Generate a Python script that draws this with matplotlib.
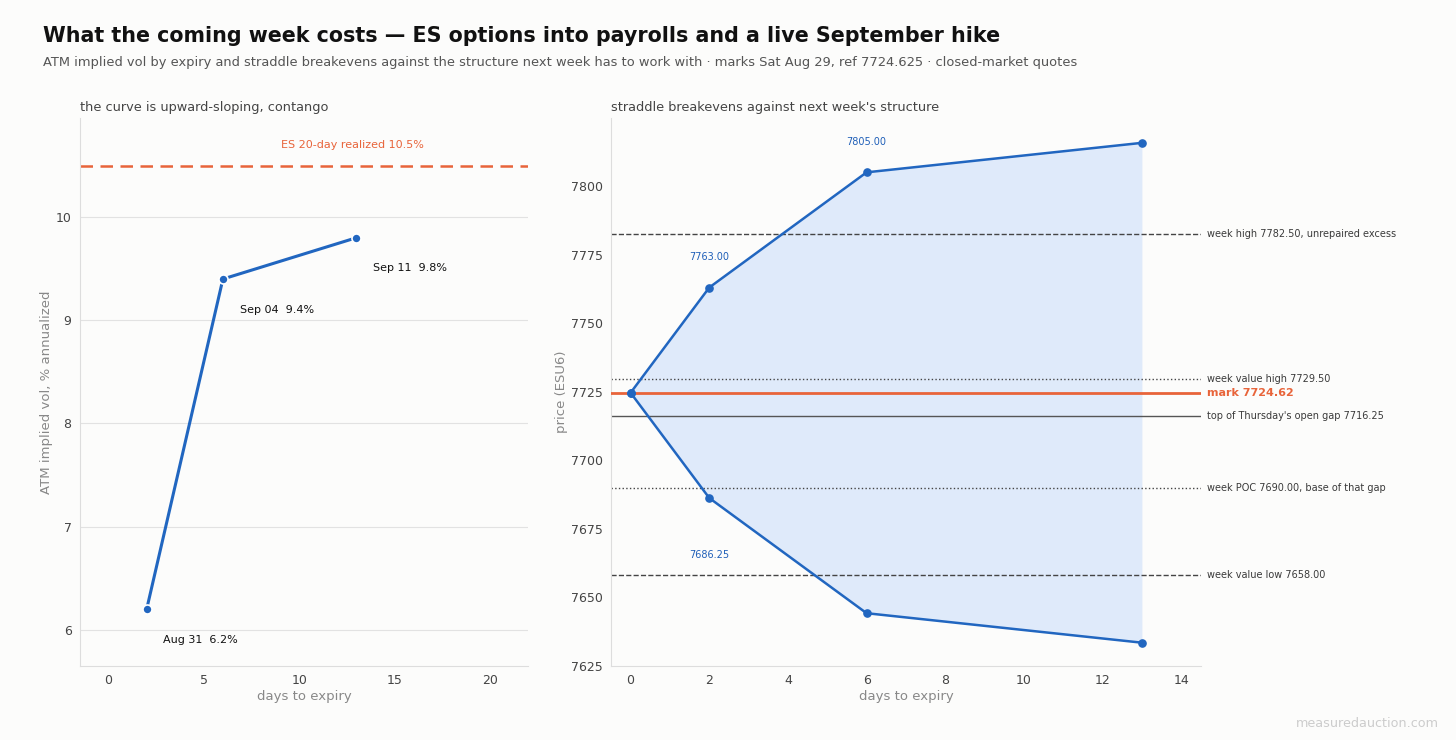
import matplotlib
matplotlib.use('Agg')
import matplotlib.pyplot as plt

# term structure data
days_iv = [2, 6, 13]
atm_iv = [6.2, 9.4, 9.8]
expiry_labels = ['Aug 31', 'Sep 04', 'Sep 11']
realized_20d = 10.5

# straddle breakevens
days_be = [0, 2, 6, 13]
upper_be = [7724.625, 7763.00, 7805.00, 7815.75]
lower_be = [7724.625, 7686.25, 7644.25, 7633.50]
mark = 7724.625

# reference levels from the week
levels = [7782.50, 7729.50, 7716.25, 7690.00, 7658.00]
level_labels = ['week high 7782.50, unrepaired excess',
                'week value high 7729.50',
                "top of Thursday's open gap 7716.25",
                'week POC 7690.00, base of that gap',
                'week value low 7658.00']
level_styles = ['--', ':', '-', ':', '--']

BG = '#fcfcfb'
BLUE = '#2166c0'
ORANGE = '#e8643a'
FILL = '#dfeafa'

fig = plt.figure(figsize=(14.56, 7.4), dpi=100, facecolor=BG)
ax1 = fig.add_axes([0.0549, 0.1, 0.3077, 0.7405])
ax2 = fig.add_axes([0.4196, 0.1, 0.4052, 0.7405])

for ax in (ax1, ax2):
    ax.set_facecolor(BG)
    for s in ['top', 'right']:
        ax.spines[s].set_visible(False)
    for s in ['left', 'bottom']:
        ax.spines[s].set_color('#dddddd')
    ax.tick_params(colors='#444444', labelsize=9, length=0, pad=6)
    ax.set_xlabel('days to expiry', color='#888888', fontsize=9.5, labelpad=2)

# left panel: ATM vol curve
ax1.grid(axis='y', color='#e2e2e2', linewidth=0.8)
ax1.set_axisbelow(True)
ax1.plot(days_iv, atm_iv, color=BLUE, linewidth=2.2, marker='o', markersize=6.5,
         markeredgecolor='white', markeredgewidth=1.2, zorder=3)
for d, v, lab in zip(days_iv, atm_iv, expiry_labels):
    ax1.annotate(f'{lab}  {v:.1f}%', (d, v), xytext=(12, -22), textcoords='offset points',
                 fontsize=8, color='#111111', ha='left', va='center')
ax1.axhline(realized_20d, color=ORANGE, linestyle='--', linewidth=1.8, dashes=(5, 3))
ax1.text(9.03, realized_20d + 0.2, f'ES 20-day realized {realized_20d}%', color=ORANGE,
         fontsize=8, ha='left', va='center')
ax1.set_xlim(-1.5, 22)
ax1.set_ylim(5.65, 10.96)
ax1.set_xticks([0, 5, 10, 15, 20])
ax1.set_yticks([6, 7, 8, 9, 10])
ax1.set_ylabel('ATM implied vol, % annualized', color='#888888', fontsize=9.5, labelpad=2)
ax1.set_title('the curve is upward-sloping, contango', loc='left', fontsize=9.25,
              color='#444444', pad=5)

# right panel: straddle breakevens vs structure
ax2.fill_between(days_be, lower_be, upper_be, color=FILL, linewidth=0, zorder=1)
ax2.plot(days_be, upper_be, color=BLUE, linewidth=1.8, marker='o', markersize=5.2, zorder=4)
ax2.plot(days_be, lower_be, color=BLUE, linewidth=1.8, marker='o', markersize=5.2, zorder=4)
for i in [1, 2]:
    ax2.annotate(f'{upper_be[i]:.2f}', (days_be[i], upper_be[i]), xytext=(0, 22),
                 textcoords='offset points', fontsize=7, color='#1f5fb8', ha='center', va='center')
ax2.annotate(f'{lower_be[1]:.2f}', (days_be[1], lower_be[1]), xytext=(0, -41),
             textcoords='offset points', fontsize=7, color='#1f5fb8', ha='center', va='center')

for lv, lab, ls in zip(levels, level_labels, level_styles):
    if ls == '-':
        ax2.axhline(lv, color='#555555', linestyle='-', linewidth=1.0, zorder=2)
    elif ls == ':':
        ax2.axhline(lv, color='#444444', linestyle=':', linewidth=1.0, zorder=2)
    else:
        ax2.axhline(lv, color='#444444', linestyle='--', linewidth=1.0, zorder=2)
    ax2.text(1.01, lv, lab, transform=ax2.get_yaxis_transform(), fontsize=7,
             color='#3a3a3a', ha='left', va='center', clip_on=False)
ax2.axhline(mark, color=ORANGE, linewidth=2.0, zorder=3)
ax2.text(1.01, mark, f'mark {mark:.2f}', transform=ax2.get_yaxis_transform(), fontsize=8,
         color=ORANGE, fontweight='bold', ha='left', va='center', clip_on=False)

ax2.set_xlim(-0.5, 14.5)
ax2.set_ylim(7625, 7824.8)
ax2.set_xticks(range(0, 15, 2))
ax2.set_yticks(range(7625, 7801, 25))
ax2.set_ylabel('price (ESU6)', color='#888888', fontsize=9.5, labelpad=2)
ax2.set_title("straddle breakevens against next week's structure", loc='left', fontsize=9.25,
              color='#444444', pad=5)

fig.text(0.0295, 0.952, 'What the coming week costs \u2014 ES options into payrolls and a live September hike',
         fontsize=14.9, fontweight='bold', color='#111111', ha='left', va='center')
fig.text(0.0295, 0.916, 'ATM implied vol by expiry and straddle breakevens against the structure next week has to work with '
         '\u00b7 marks Sat Aug 29, ref 7724.625 \u00b7 closed-market quotes',
         fontsize=9.35, color='#555555', ha='left', va='center')
fig.text(0.988, 0.022, 'measuredauction.com', fontsize=9.2, color='#cccccc', ha='right', va='center')

fig.savefig('out.png', dpi=100, facecolor=BG)
